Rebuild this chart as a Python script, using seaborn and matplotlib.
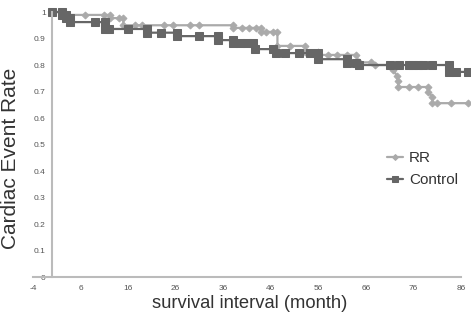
import pandas as pd
import matplotlib
matplotlib.use("Agg")
import matplotlib.pyplot as plt
import seaborn as sns

# --- DATA (step corners included) ---
rr_month = [0, 2.5, 2.5, 7, 11, 12.2, 12.2, 14, 15, 15, 17.5, 19, 23.5, 25.5, 29, 31, 38,
            38, 40, 41.5, 43, 44, 44, 45, 46.5, 47.4, 47.4, 50, 53.3, 53.3, 56, 56, 58, 60,
            62, 64, 64.5, 67, 68, 71.8, 71.8, 72.5, 72.8, 72.8, 75, 77, 79, 79, 80, 80, 81,
            84, 87.5]
rr_rate = [1, 1, 0.989, 0.989, 0.989, 0.989, 0.977, 0.977, 0.977, 0.95, 0.95, 0.95, 0.95,
           0.95, 0.95, 0.95, 0.95, 0.94, 0.94, 0.94, 0.94, 0.94, 0.925, 0.925, 0.925, 0.925,
           0.872, 0.872, 0.872, 0.85, 0.85, 0.838, 0.838, 0.838, 0.838, 0.838, 0.81, 0.81,
           0.8, 0.8, 0.78, 0.76, 0.74, 0.717, 0.717, 0.717, 0.717, 0.70, 0.68, 0.656, 0.656,
           0.656, 0.656]

ctl_month = [0, 2.1, 2.1, 2.9, 2.9, 3.8, 3.8, 9, 11.2, 11.2, 12, 16, 20, 20, 23, 26.3, 26.3,
             31, 35, 35, 38, 38, 39.6, 41, 42.3, 42.7, 46.5, 47, 49, 52, 54.3, 56, 56, 62,
             62, 64, 64.5, 71, 73, 75, 76, 77, 78, 80, 83.4, 83.4, 85, 87.5]
ctl_rate = [1, 1, 0.989, 0.989, 0.977, 0.977, 0.962, 0.962, 0.962, 0.936, 0.936, 0.936,
            0.936, 0.922, 0.922, 0.922, 0.909, 0.909, 0.909, 0.894, 0.894, 0.883, 0.883,
            0.883, 0.883, 0.86, 0.86, 0.845, 0.845, 0.845, 0.845, 0.845, 0.822, 0.822,
            0.807, 0.807, 0.8, 0.8, 0.8, 0.8, 0.8, 0.8, 0.8, 0.8, 0.8, 0.774, 0.774, 0.774]

x_ticks = [-4, 6, 16, 26, 36, 46, 56, 66, 76, 86]
y_ticks = [0, 0.1, 0.2, 0.3, 0.4, 0.5, 0.6, 0.7, 0.8, 0.9, 1]
y_labels = ["0", "0.1", "0.2", "0.3", "0.4", "0.5", "0.6", "0.7", "0.8", "0.9", "1"]

rr_df = pd.DataFrame({"month": rr_month, "rate": rr_rate})
ctl_df = pd.DataFrame({"month": ctl_month, "rate": ctl_rate})

# --- PLOT ---
sns.set_style("white")
plt.rcParams["font.family"] = ["Liberation Sans", "DejaVu Sans"]

fig = plt.figure(figsize=(4.74, 3.15), dpi=100)
ax = fig.add_axes([0.0696, 0.1206, 0.9230, 0.8581])

sns.lineplot(x="month", y="rate", data=rr_df, sort=False, estimator=None, ax=ax,
             color="#aaaaaa", lw=1.6, marker="D", markersize=3.5,
             markeredgecolor="#aaaaaa", label="RR")
sns.lineplot(x="month", y="rate", data=ctl_df, sort=False, estimator=None, ax=ax,
             color="#666666", lw=1.6, marker="s", markersize=5.5,
             markeredgecolor="#666666", label="Control")

ax.set_xlim(-4, 88)
ax.set_ylim(0, 1.02)
ax.set_xticks(x_ticks)
ax.set_xticklabels([str(v) for v in x_ticks])
ax.set_yticks(y_ticks)
ax.set_yticklabels(y_labels)

ax.spines["left"].set_position(("data", 0))
ax.spines["left"].set_bounds(0, 1)
ax.spines["bottom"].set_bounds(-4, 86)
ax.spines["top"].set_visible(False)
ax.spines["right"].set_visible(False)
for s in ["left", "bottom"]:
    ax.spines[s].set_color("#bbbbbb")
    ax.spines[s].set_linewidth(1.5)

ax.tick_params(axis="both", labelsize=6, colors="#555555", length=3, width=1,
               direction="inout")
ax.tick_params(axis="x", pad=4)
ax.tick_params(axis="y", pad=3)
for t in ax.get_xticklines() + ax.get_yticklines():
    t.set_color("#bbbbbb")

ax.set_xlabel("")
ax.set_ylabel("")
fig.text(0.527, 0.038, "survival interval (month)", ha="center", va="center",
         fontsize=13.2, color="#333333")
fig.text(0.023, 0.498, "Cardiac Event Rate", ha="center", va="center",
         rotation=90, fontsize=15, color="#333333")

leg = ax.legend(loc="center left", bbox_to_anchor=(0.816, 0.463),
                bbox_transform=fig.transFigure, frameon=False, fontsize=11,
                handlelength=1.05, handletextpad=0.4, labelspacing=0.55,
                borderpad=0, borderaxespad=0)
for txt in leg.get_texts():
    txt.set_color("#333333")
for h, ms in zip(leg.legend_handles, [3, 4.5]):
    h.set_markersize(ms)

plt.savefig("out.png", dpi=100)
